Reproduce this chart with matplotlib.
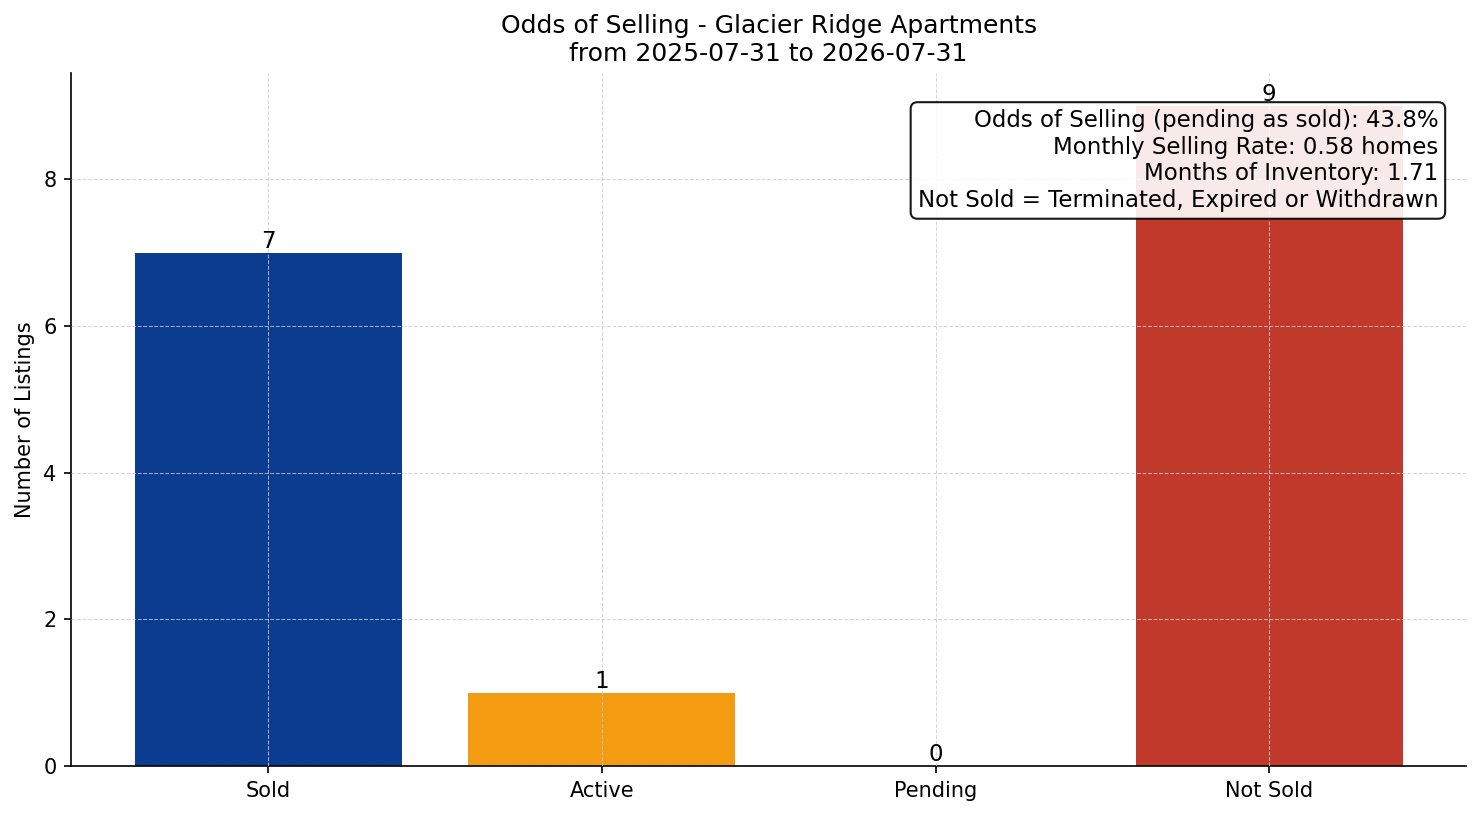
import numpy as np
import matplotlib.pyplot as plt

# --- Data ---
categories = ['Sold', 'Active', 'Pending', 'Not Sold']
counts = [7, 1, 0, 9]
bar_colors = ['#0B3C8F', '#F39C12', '#7F8C8D', '#C0392B']

title_name = 'Glacier Ridge Apartments'
date_from = '2025-07-31'
date_to = '2026-07-31'
odds_pct = 43.8
monthly_rate = 0.58
months_inventory = 1.71

# --- Plot ---
fig, ax = plt.subplots(figsize=(1481 / 150, 816 / 150), dpi=150)
x = np.arange(len(categories))
bars = ax.bar(x, counts, color=bar_colors, width=0.8, zorder=1)

for b, v in zip(bars, counts):
    ax.text(b.get_x() + b.get_width() / 2, b.get_height(), str(v),
            ha='center', va='bottom', fontsize=11)

ax.set_xticks(x)
ax.set_xticklabels(categories)
ax.set_ylabel('Number of Listings')
ax.set_title(f'Odds of Selling - {title_name}\nfrom {date_from} to {date_to}', fontsize=12)

ax.grid(True, linestyle='--', linewidth=0.5, color='#cccccc', alpha=0.8, zorder=2)
ax.set_axisbelow(False)
ax.spines['top'].set_visible(False)
ax.spines['right'].set_visible(False)

info = (f'Odds of Selling (pending as sold): {odds_pct:.1f}%\n'
        f'Monthly Selling Rate: {monthly_rate:.2f} homes\n'
        f'Months of Inventory: {months_inventory:.2f}\n'
        'Not Sold = Terminated, Expired or Withdrawn')
ax.text(0.98, 0.948, info, transform=ax.transAxes, ha='right', va='top',
        multialignment='right', fontsize=11, zorder=5,
        bbox=dict(boxstyle='round,pad=0.3', fc='white', ec='black', lw=1, alpha=0.9))

plt.subplots_adjust(left=0.048, right=0.99, top=0.9105, bottom=0.0613)
plt.savefig('out.png', dpi=150)
